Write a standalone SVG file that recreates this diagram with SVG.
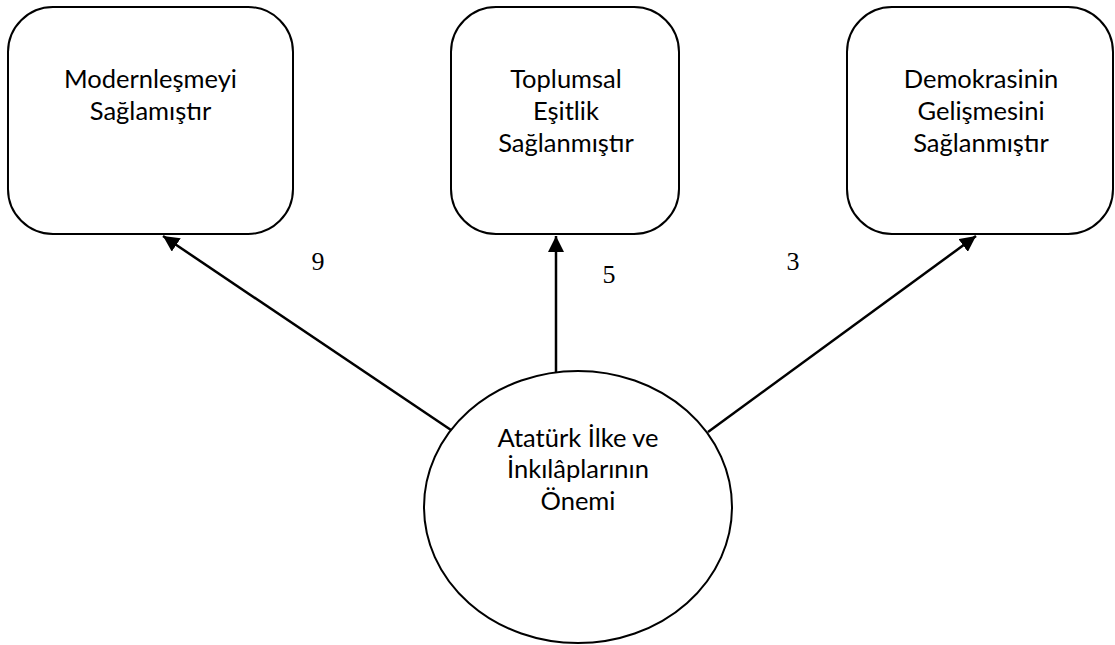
<svg xmlns="http://www.w3.org/2000/svg" width="1115" height="645" viewBox="0 0 1115 645">
<style>
.box{fill:#fff;stroke:#000;stroke-width:2}
.lbl{font-family:Lato,"Liberation Sans",sans-serif;font-size:25.5px;fill:#000;text-anchor:middle}
.num{font-family:"Liberation Serif",serif;font-size:26px;fill:#000;text-anchor:middle}
.conn{stroke:#000;stroke-width:2.5;fill:none;marker-end:url(#ah)}
</style>
<defs>
<marker id="ah" markerUnits="userSpaceOnUse" markerWidth="18" markerHeight="16" refX="16" refY="8" orient="auto">
<path d="M0,0 L16,8 L0,16 Z" fill="#000"/>
</marker>
</defs>
<rect width="1115" height="645" fill="#fff"/>
<g id="connectors">
<line class="conn" x1="451" y1="430" x2="163" y2="236"/>
<line class="conn" x1="556" y1="372" x2="556" y2="236"/>
<line class="conn" x1="708" y1="432" x2="976" y2="236"/>
</g>
<g id="labels">
<text class="num" x="318" y="270">9</text>
<text class="num" x="609" y="283">5</text>
<text class="num" x="793" y="270">3</text>
</g>
<g id="node-modern">
<rect class="box" x="8" y="7" width="285" height="227" rx="45" ry="45"/>
<text class="lbl" x="150.5" y="88">Modernleşmeyi</text>
<text class="lbl" x="150.5" y="120">Sağlamıştır</text>
</g>
<g id="node-esitlik">
<rect class="box" x="451" y="7" width="228" height="227" rx="45" ry="45"/>
<text class="lbl" x="566" y="88">Toplumsal</text>
<text class="lbl" x="566" y="120">Eşitlik</text>
<text class="lbl" x="566" y="152">Sağlanmıştır</text>
</g>
<g id="node-demokrasi">
<rect class="box" x="847" y="7" width="266" height="227" rx="45" ry="45"/>
<text class="lbl" x="981" y="88">Demokrasinin</text>
<text class="lbl" x="981" y="120">Gelişmesini</text>
<text class="lbl" x="981" y="152">Sağlanmıştır</text>
</g>
<g id="node-center">
<ellipse class="box" cx="578" cy="507" rx="154" ry="136"/>
<text class="lbl" x="578" y="447">Atatürk İlke ve</text>
<text class="lbl" x="578" y="478">İnkılâplarının</text>
<text class="lbl" x="578" y="510">Önemi</text>
</g>
</svg>
